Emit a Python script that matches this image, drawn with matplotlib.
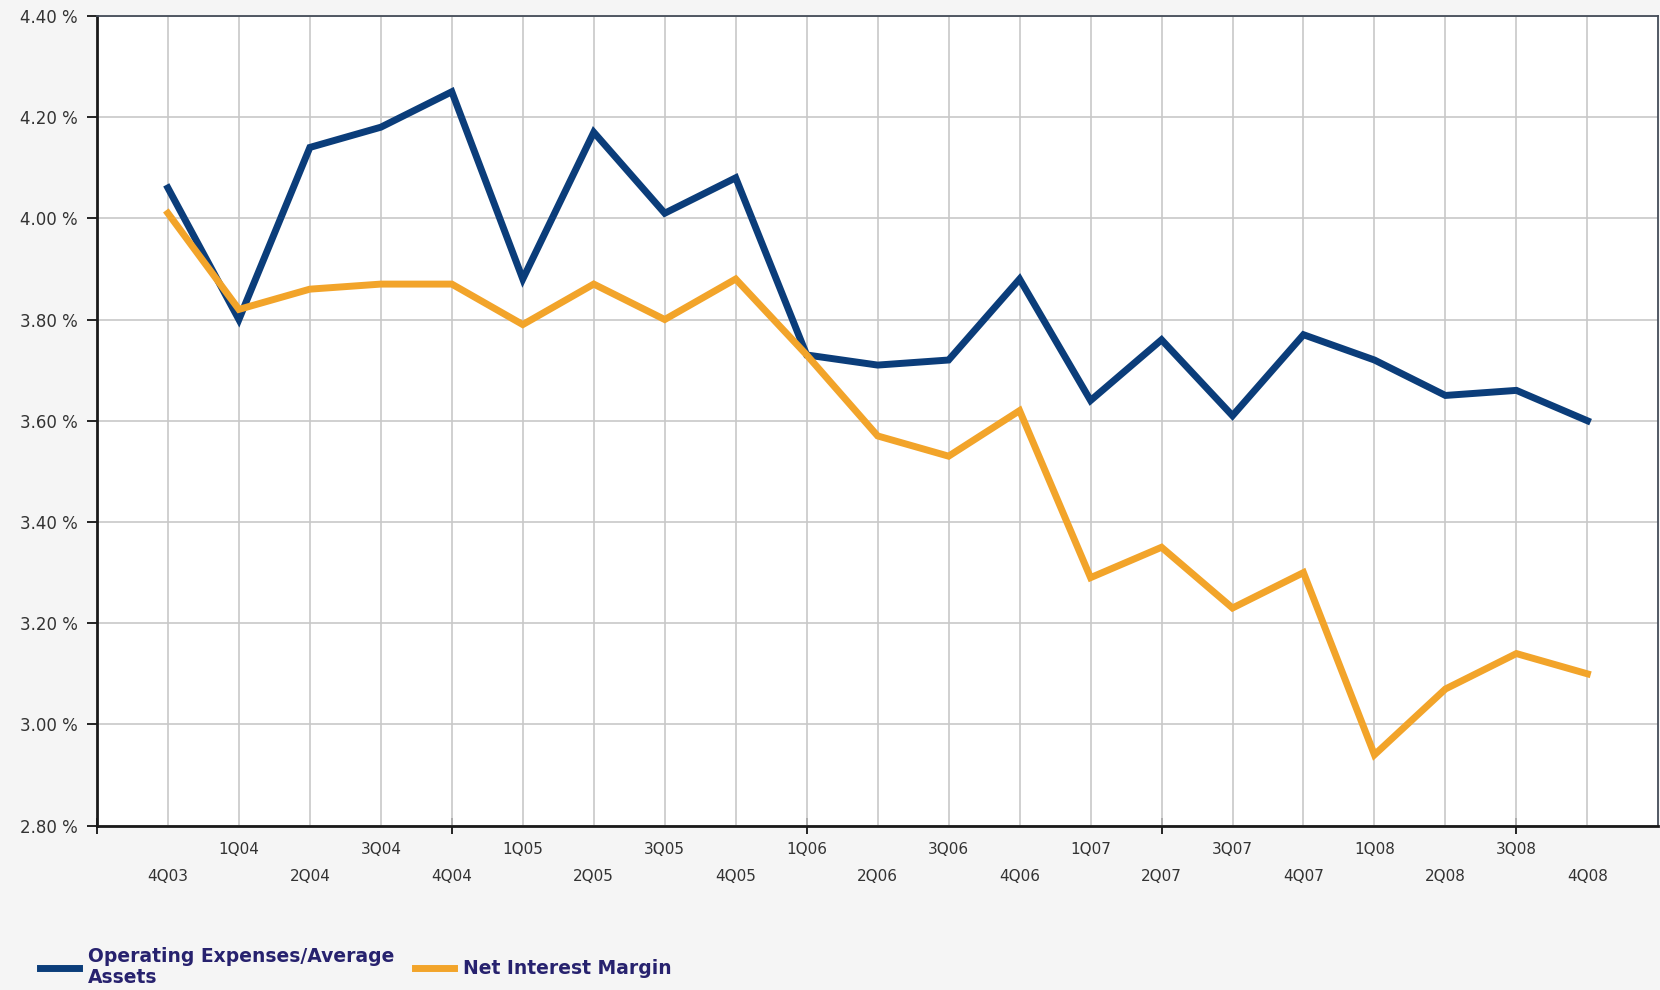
import numpy as np
import matplotlib.pyplot as plt
from matplotlib.ticker import FuncFormatter

# quarter labels and series values (percent)
quarters = ['4Q03', '1Q04', '2Q04', '3Q04', '4Q04', '1Q05', '2Q05', '3Q05', '4Q05',
            '1Q06', '2Q06', '3Q06', '4Q06', '1Q07', '2Q07', '3Q07', '4Q07',
            '1Q08', '2Q08', '3Q08', '4Q08']
opex_avg_assets = [4.06, 3.80, 4.14, 4.18, 4.25, 3.88, 4.17, 4.01, 4.08,
                   3.73, 3.71, 3.72, 3.88, 3.64, 3.76, 3.61, 3.77,
                   3.72, 3.65, 3.66, 3.60]
net_interest_margin = [4.01, 3.82, 3.86, 3.87, 3.87, 3.79, 3.87, 3.80, 3.88,
                       3.73, 3.57, 3.53, 3.62, 3.29, 3.35, 3.23, 3.30,
                       2.94, 3.07, 3.14, 3.10]
y_ticks = [2.80, 3.00, 3.20, 3.40, 3.60, 3.80, 4.00, 4.20, 4.40]

navy = '#0b3d7a'
orange = '#f2a42a'
text_navy = '#27226e'

fig = plt.figure(figsize=(16.6, 9.9), dpi=100, facecolor='#f5f5f5')
ax = fig.add_axes([0.0584, 0.166, 0.9406, 0.818])
ax.set_facecolor('white')

x = np.arange(len(quarters))
ax.plot(x, opex_avg_assets, color=navy, lw=5, solid_joinstyle='miter',
        label='Operating Expenses/Average\nAssets', zorder=3)
ax.plot(x, net_interest_margin, color=orange, lw=5, solid_joinstyle='miter',
        label='Net Interest Margin', zorder=3)

ax.set_xlim(-1, len(quarters))
ax.set_ylim(2.80, 4.40)
ax.set_yticks(y_ticks)
ax.yaxis.set_major_formatter(FuncFormatter(lambda v, p: f'{v:.2f} %'))

# staggered quarter labels: odd positions upper row, even positions lower row
ax.set_xticks(x[1::2])
ax.set_xticklabels(quarters[1::2])
ax.set_xticks(x[0::2], minor=True)
ax.set_xticklabels(quarters[0::2], minor=True)
ax.tick_params(axis='x', which='major', length=0, pad=12, labelsize=11, labelcolor='#333333')
ax.tick_params(axis='x', which='minor', length=0, pad=31, labelsize=11, labelcolor='#333333')
ax.tick_params(axis='y', length=7, width=1.2, labelsize=12, labelcolor='#333333', pad=7)

ax.grid(True, which='both', axis='x', color='#c8c8c8', lw=1.2)
ax.grid(True, which='major', axis='y', color='#c8c8c8', lw=1.2)
ax.set_axisbelow(True)

# small marks every fifth quarter on the baseline
sec = ax.secondary_xaxis('bottom')
sec.set_xticks([-1, 4, 9, 14, 19])
sec.set_xticklabels([])
sec.tick_params(direction='inout', length=12, width=1.2)
sec.spines['bottom'].set_visible(False)

for s in ['left', 'bottom']:
    ax.spines[s].set_linewidth(2)
    ax.spines[s].set_color('#1a1a1a')
for s in ['top', 'right']:
    ax.spines[s].set_linewidth(1.3)
    ax.spines[s].set_color('#444c58')

leg = fig.legend(loc='lower left', bbox_to_anchor=(0.014, -0.014), ncol=2,
                 frameon=False, handlelength=2.1, handletextpad=0.45,
                 columnspacing=1.1, prop={'weight': 'bold', 'size': 13.5})
for t in leg.get_texts():
    t.set_color(text_navy)
    t.set_linespacing(1.15)

fig.savefig('out.png', dpi=100, facecolor=fig.get_facecolor())
